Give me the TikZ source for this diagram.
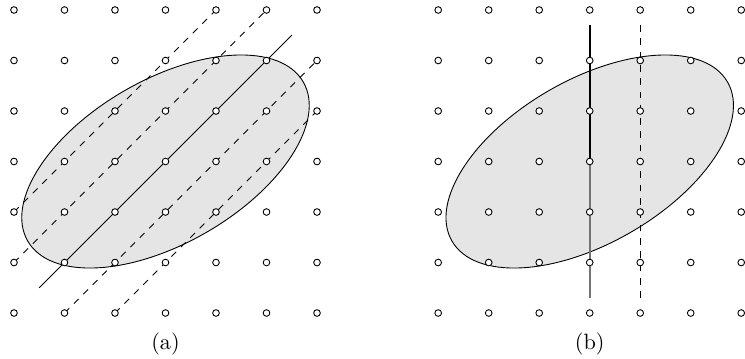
\documentclass[tikz,border=0pt]{standalone}
\usetikzlibrary{positioning}

\begin{document}
\begin{tikzpicture}[
  x=0.8cm,
  y=0.8cm,
  latpt/.style={
    circle,
    draw,
    fill=white,
    inner sep=0pt,
    minimum size=3pt,
    line width=0.4pt
  },
  region/.style={draw, fill=black!10, line width=0.4pt},
  slice/.style={line width=0.4pt},
  sliceaux/.style={dashed, line width=0.4pt},
  chosen/.style={thick},
  rest/.style={thick, black!55}
]
  \useasboundingbox (-0.277,-0.891) rectangle (14.475,6.198);

  % (a): slices along the diagonal
  \draw[region] (3,3) ellipse[x radius=3.15, y radius=1.62, rotate=30];
  \draw[slice] (0.5,0.5) -- (5.5,5.5);
  \draw[sliceaux] (0,2) -- (4,6);
  \draw[sliceaux] (0,1) -- (5,6);
  \draw[sliceaux] (1,0) -- (6,5);
  \draw[sliceaux] (2,0) -- (6,4);

  % (b): vertical slices
  \draw[region] (11.4,3) ellipse[x radius=3.15, y radius=1.62, rotate=30];
  \draw[rest] (11.4,0.3) -- (11.4,3);
  \draw[chosen] (11.4,3) -- (11.4,5.7);
  \draw[sliceaux] (12.4,0.3) -- (12.4,5.7);

  % lattice points
  \foreach \i in {0,...,6} {
    \foreach \j in {0,...,6} {
      \node[latpt] (a-\i-\j) at (\i,\j) {};
      \node[latpt] (b-\i-\j) at (8.4+\i,\j) {};
    }
  }

  \node (capa) at (3,-0.61) {(a)};
  \node (capb) at (11.4,-0.61) {(b)};
\end{tikzpicture}
\end{document}
